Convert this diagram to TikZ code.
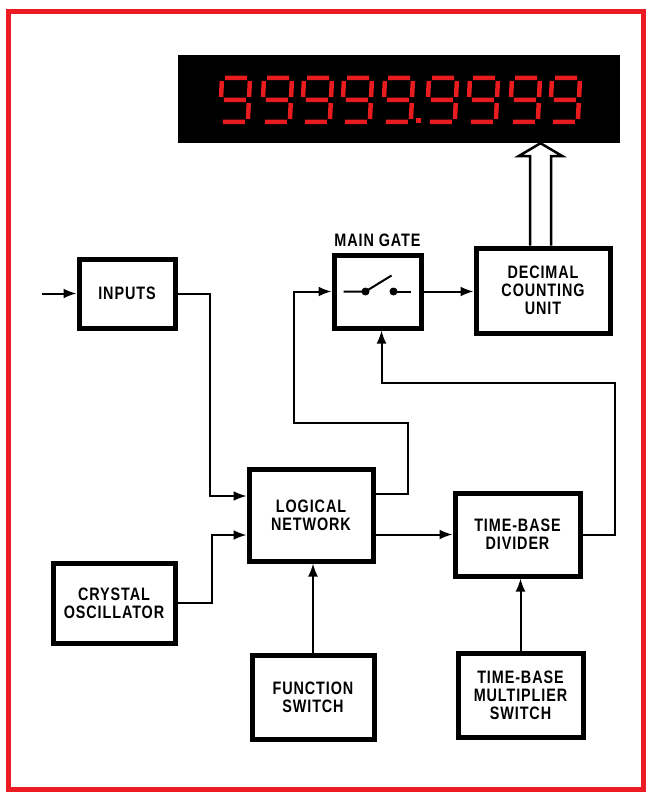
\documentclass[tikz,border=0pt]{standalone}
\usepackage{fontspec}
\setmainfont{Liberation Sans}
\newfontfamily\blockfont[FakeStretch=0.8,LetterSpace=5]{Liberation Sans}
\usepackage{tikz}
\usetikzlibrary{arrows.meta,positioning,calc}
\definecolor{ledred}{RGB}{232,28,30}
\definecolor{framered}{RGB}{236,28,36}

\tikzset{
  nine/.pic={
    \draw[segment] (3,0) -- (25,0) (28,3) -- (28,19) (28,25) -- (28,41)
      (25,44) -- (3,44) (0,19) -- (0,3) (3,22) -- (25,22);
  }
}

\begin{document}
\begin{tikzpicture}[x=1pt,y=-1pt,
    block/.style={draw,line width=5pt,align=center,
      font=\blockfont\bfseries\fontsize{18}{18}\selectfont},
    gatename/.style={font=\blockfont\bfseries\fontsize{18}{18}\selectfont},
    wire/.style={line width=2pt},
    feed/.style={line width=2pt,-{Latex[length=13pt,width=10pt]}},
    busarrow/.style={line width=2.5pt,fill=white,line join=miter},
    segment/.style={ledred,line width=4.5pt}]
  \useasboundingbox (0,0) rectangle (646,794);
  \draw[framered,line width=5pt] (8,12) rectangle (643,789);

  % readout
  \node[fill=black,minimum width=442pt,minimum height=88pt,inner sep=0pt] (display) at (399,99) {};
  \foreach \dx in {220,262,302,342,383,427,468,510,550}
    \pic[xslant=0.05] at (\dx+2,78) {nine};
  \fill[ledred] (416,118) rectangle (421,123);

  % blocks
  \node[block,minimum width=96pt,minimum height=69pt] (inputs) at (127,293.5) {INPUTS};
  \node[block,minimum width=87pt,minimum height=73pt] (maingate) at (377.5,291.5) {};
  \node[gatename,above=2pt of maingate] (gatelabel) {MAIN GATE};
  \node[block,minimum width=134pt,minimum height=85pt] (dcu) at (543,290.5) {DECIMAL\\COUNTING\\UNIT};
  \node[block,minimum width=124pt,minimum height=92pt] (logic) at (311,515) {LOGICAL\\NETWORK};
  \node[block,minimum width=125pt,minimum height=83pt] (tbd) at (517.5,534.5) {TIME-BASE\\DIVIDER};
  \node[block,minimum width=122pt,minimum height=80pt] (xtal) at (114,603) {CRYSTAL\\OSCILLATOR};
  \node[block,minimum width=122pt,minimum height=84pt] (func) at (313,697) {FUNCTION\\SWITCH};
  \node[block,minimum width=125pt,minimum height=84pt] (tbms) at (520.5,695) {TIME-BASE\\MULTIPLIER\\SWITCH};

  % switch symbol
  \draw[wire] ($(maingate)+(-34,0)$) -- ($(maingate)+(-12,0)$) -- ($(maingate)+(14,-16)$);
  \fill ($(maingate)+(-12,0)$) circle (4pt);
  \fill ($(maingate)+(16,0)$) circle (4pt);
  \draw[wire] ($(maingate)+(16,0)$) -- ($(maingate)+(33,0)$);

  % connections
  \coordinate (inputin) at (42,293.5);
  \draw[feed] (inputin) -- (inputs.west);
  \draw[feed] (inputs.east) -| (210,496) -- ([yshift=19pt]logic.west);
  \draw[feed] (xtal.east) -| (212,535) -- ([yshift=-20pt]logic.west);
  \draw[feed] ([yshift=21pt]logic.east) -| (408,423) -| (294,291.5) -- (maingate.west);
  \draw[feed] (logic.east |- tbd.west) -- (tbd.west);
  \draw[feed] (tbd.east) -| (615,383) -| ([xshift=4pt]maingate.south);
  \draw[feed] (maingate.east) -- (maingate.east -| dcu.west);
  \draw[feed] (func.north) -- (func.north |- logic.south);
  \draw[feed] (tbms.north) -- (tbms.north |- tbd.south);

  % bus to readout
  \coordinate (busfoot) at ([xshift=-2.5pt]dcu.north);
  \coordinate (bustip) at (busfoot |- display.south);
  \draw[busarrow] ([xshift=-10.5pt]busfoot) -- ([xshift=-10.5pt,yshift=-13pt]bustip)
    -- ([xshift=-22pt,yshift=-13pt]bustip) -- (bustip)
    -- ([xshift=22pt,yshift=-13pt]bustip) -- ([xshift=10.5pt,yshift=-13pt]bustip)
    -- ([xshift=10.5pt]busfoot);
\end{tikzpicture}
\end{document}
